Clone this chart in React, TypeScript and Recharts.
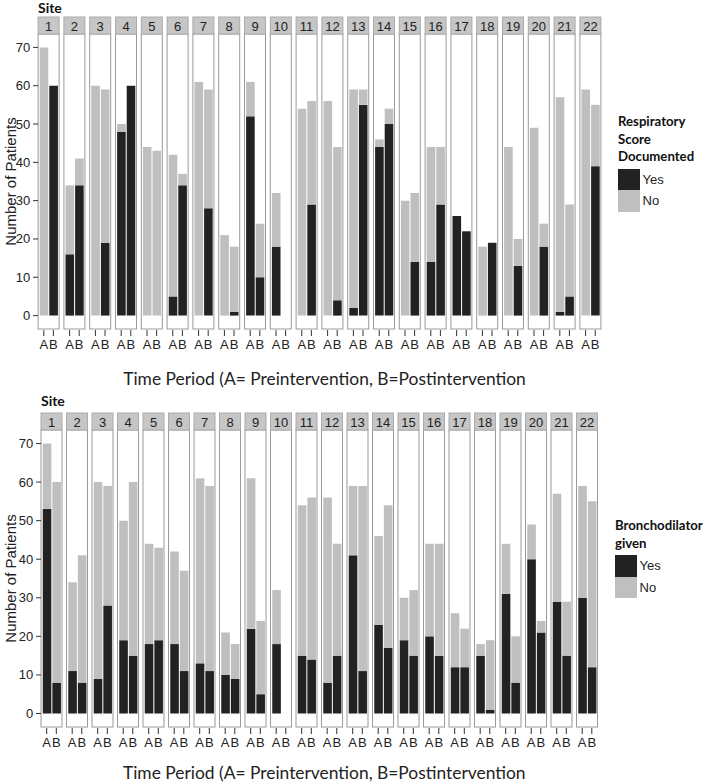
import { BarChart, Bar, XAxis, YAxis, ReferenceArea, Legend } from "recharts";

const SITES = ["1","2","3","4","5","6","7","8","9","10","11","12","13","14","15","16","17","18","19","20","21","22"];
const Y_TICKS = [0, 10, 20, 30, 40, 50, 60, 70];
const LEGEND_ORDER = ["Yes", "No"];

// Respiratory score documented (A = pre, B = post)
const RESP_A_YES = [0, 16, 0, 48, 0, 5, 0, 0, 52, 18, 0, 0, 2, 44, 0, 14, 26, 0, 0, 0, 1, 0];
const RESP_A_NO = [70, 18, 60, 2, 44, 37, 61, 21, 9, 14, 54, 56, 57, 2, 30, 30, 0, 18, 44, 49, 56, 59];
const RESP_B_YES = [60, 34, 19, 60, 0, 34, 28, 1, 10, 0, 29, 4, 55, 50, 14, 29, 22, 19, 13, 18, 5, 39];
const RESP_B_NO = [0, 7, 40, 0, 43, 3, 31, 17, 14, 0, 27, 40, 4, 4, 18, 15, 0, 0, 7, 6, 24, 16];

// Bronchodilator given
const BRON_A_YES = [53, 11, 9, 19, 18, 18, 13, 10, 22, 18, 15, 8, 41, 23, 19, 20, 12, 15, 31, 40, 29, 30];
const BRON_A_NO = [17, 23, 51, 31, 26, 24, 48, 11, 39, 14, 39, 48, 18, 23, 11, 24, 14, 3, 13, 9, 28, 29];
const BRON_B_YES = [8, 8, 28, 15, 19, 11, 11, 9, 5, 0, 14, 15, 11, 17, 15, 15, 12, 1, 8, 21, 15, 12];
const BRON_B_NO = [52, 33, 31, 45, 24, 26, 48, 9, 19, 0, 42, 29, 48, 37, 17, 29, 10, 18, 12, 3, 14, 43];

const X_TITLE = "Time Period (A= Preintervention, B=Postintervention";

const DARK = "#222222";
const LIGHT = "#bfbfbf";
const AXIS_FONT = "'Liberation Sans', Arial, sans-serif";
const TITLE_FONT = "Lato, 'Open Sans', sans-serif";

const BOX_W = 21;
const STRIP_H = 17;
const HALF = 4.8;

function buildRows(aYes: number[], aNo: number[], bYes: number[], bNo: number[]) {
  return SITES.map((site, i) => ({
    site,
    aYes: aYes[i],
    aNo: aNo[i],
    bYes: bYes[i],
    bNo: bNo[i],
  }));
}

function panelShape(site: string, inset: number) {
  return (props: any) => {
    const { x, y, width, height } = props;
    const bx = x + inset;
    const bw = width - 2 * inset;
    return (
      <g>
        <rect x={bx} y={y} width={bw} height={height} fill="#ffffff" stroke="#9a9a9a" strokeWidth={1} />
        <rect x={bx} y={y - STRIP_H} width={bw} height={STRIP_H} fill="#c6c6c6" stroke="#ababab" strokeWidth={1} />
        <text
          x={x + width / 2}
          y={y - STRIP_H / 2 + 1}
          textAnchor="middle"
          dominantBaseline="central"
          fontSize={13}
          fontFamily={AXIS_FONT}
          fill="#222"
        >
          {site}
        </text>
      </g>
    );
  };
}

const ABTick = (props: any) => {
  const { x, y } = props;
  return (
    <g>
      <line x1={x - HALF} x2={x - HALF} y1={y + 1} y2={y + 7} stroke="#333" />
      <line x1={x + HALF} x2={x + HALF} y1={y + 1} y2={y + 7} stroke="#333" />
      <text x={x - HALF} y={y + 20} textAnchor="middle" fontSize={13} fontFamily={AXIS_FONT} fill="#222">
        A
      </text>
      <text x={x + HALF} y={y + 20} textAnchor="middle" fontSize={13} fontFamily={AXIS_FONT} fill="#222">
        B
      </text>
    </g>
  );
};

function makeYTick(inset: number) {
  return (props: any) => {
    const { x, y, payload } = props;
    return (
      <g>
        <line x1={x - 2.7} x2={x + inset} y1={y} y2={y} stroke="#333" />
        <text x={x - 5.5} y={y} textAnchor="end" dominantBaseline="central" fontSize={13} fontFamily={AXIS_FONT} fill="#222">
          {payload.value}
        </text>
      </g>
    );
  };
}

function LegendContent({ title, payload }: { title: string[]; payload?: any[] }) {
  const items = LEGEND_ORDER.map((name) => (payload || []).find((p) => p.value === name)).filter(Boolean);
  return (
    <div style={{ fontFamily: TITLE_FONT, whiteSpace: "nowrap" }}>
      {title.map((line) => (
        <div key={line} style={{ fontWeight: 700, fontSize: 13.2, lineHeight: "17.5px", color: "#111" }}>
          {line}
        </div>
      ))}
      <div style={{ marginTop: 3 }}>
        {items.map((item: any) => (
          <div key={item.value} style={{ display: "flex", alignItems: "center", height: 21.5 }}>
            <div style={{ width: 21.5, height: 21.5, background: item.color }} />
            <span style={{ marginLeft: 3, fontSize: 13, fontFamily: AXIS_FONT, color: "#222" }}>{item.value}</span>
          </div>
        ))}
      </div>
    </div>
  );
}

interface PanelProps {
  top: number;
  height: number;
  marginTop: number;
  plotLeft: number;
  plotRight: number;
  plotBottom: number;
  rows: any[];
  legendTitle: string[];
  legendLeft: number;
  legendTop: number;
  titleBaseline: number;
  siteLeft: number;
  siteTop: number;
}

function Panel(p: PanelProps) {
  const width = 707;
  const band = (p.plotRight - p.plotLeft) / SITES.length;
  const inset = (band - BOX_W) / 2;
  const xAxisHeight = p.height - p.plotBottom;
  const midY = (p.marginTop + p.plotBottom) / 2;
  return (
    <div style={{ position: "absolute", left: 0, top: p.top, width, height: p.height }}>
      <BarChart
        width={width}
        height={p.height}
        data={p.rows}
        margin={{ top: p.marginTop, right: width - p.plotRight, bottom: 0, left: 0 }}
        barSize={8.6}
        barGap={1}
      >
        <XAxis
          dataKey="site"
          interval={0}
          height={xAxisHeight}
          tickLine={false}
          axisLine={false}
          tickSize={0}
          tickMargin={0}
          tick={<ABTick />}
          label={{
            content: () => (
              <text
                x={(p.plotLeft + p.plotRight) / 2 + 5}
                y={p.titleBaseline}
                textAnchor="middle"
                fontSize={17.4}
                fontFamily={TITLE_FONT}
                fill="#222"
              >
                {X_TITLE}
              </text>
            ),
          }}
        />
        <YAxis
          width={p.plotLeft}
          domain={[-3.5, 73.5]}
          ticks={Y_TICKS}
          interval={0}
          tickLine={false}
          axisLine={false}
          tickSize={0}
          tickMargin={0}
          tick={makeYTick(inset)}
          label={{
            content: () => (
              <text
                x={10}
                y={midY}
                transform={`rotate(-90, 10, ${midY})`}
                textAnchor="middle"
                dominantBaseline="central"
                fontSize={15}
                fontFamily={AXIS_FONT}
                fill="#222"
              >
                Number of Patients
              </text>
            ),
          }}
        />
        {SITES.map((s) => (
          <ReferenceArea key={s} x1={s} x2={s} ifOverflow="visible" shape={panelShape(s, inset)} />
        ))}
        <Bar dataKey="aYes" name="Yes" stackId="A" fill={DARK} isAnimationActive={false} />
        <Bar dataKey="aNo" name="No" stackId="A" fill={LIGHT} isAnimationActive={false} />
        <Bar dataKey="bYes" name="Yes" stackId="B" fill={DARK} isAnimationActive={false} />
        <Bar dataKey="bNo" name="No" stackId="B" fill={LIGHT} isAnimationActive={false} />
        <Legend
          layout="horizontal"
          verticalAlign="middle"
          align="center"
          wrapperStyle={{ left: p.legendLeft, top: p.legendTop, width: 92 }}
          content={(props: any) => <LegendContent title={p.legendTitle} payload={props.payload} />}
        />
      </BarChart>
      <div
        style={{
          position: "absolute",
          left: p.siteLeft,
          top: p.siteTop,
          fontFamily: TITLE_FONT,
          fontWeight: 700,
          fontSize: 14,
          color: "#111",
          lineHeight: "16px",
        }}
      >
        Site
      </div>
    </div>
  );
}

export default function App() {
  const respRows = buildRows(RESP_A_YES, RESP_A_NO, RESP_B_YES, RESP_B_NO);
  const bronRows = buildRows(BRON_A_YES, BRON_A_NO, BRON_B_YES, BRON_B_NO);
  return (
    <div style={{ position: "absolute", left: 0, top: 0, width: 707, height: 783, background: "#fff" }}>
      <Panel
        top={0}
        height={392}
        marginTop={34}
        plotLeft={35.7}
        plotRight={603.3}
        plotBottom={329}
        rows={respRows}
        legendTitle={["Respiratory", "Score", "Documented"]}
        legendLeft={618}
        legendTop={113}
        titleBaseline={385}
        siteLeft={38}
        siteTop={0}
      />
      <Panel
        top={392}
        height={391}
        marginTop={38}
        plotLeft={38.75}
        plotRight={599.75}
        plotBottom={335}
        rows={bronRows}
        legendTitle={["Bronchodilator", "given"]}
        legendLeft={615}
        legendTop={125}
        titleBaseline={387}
        siteLeft={41}
        siteTop={1}
      />
    </div>
  );
}
